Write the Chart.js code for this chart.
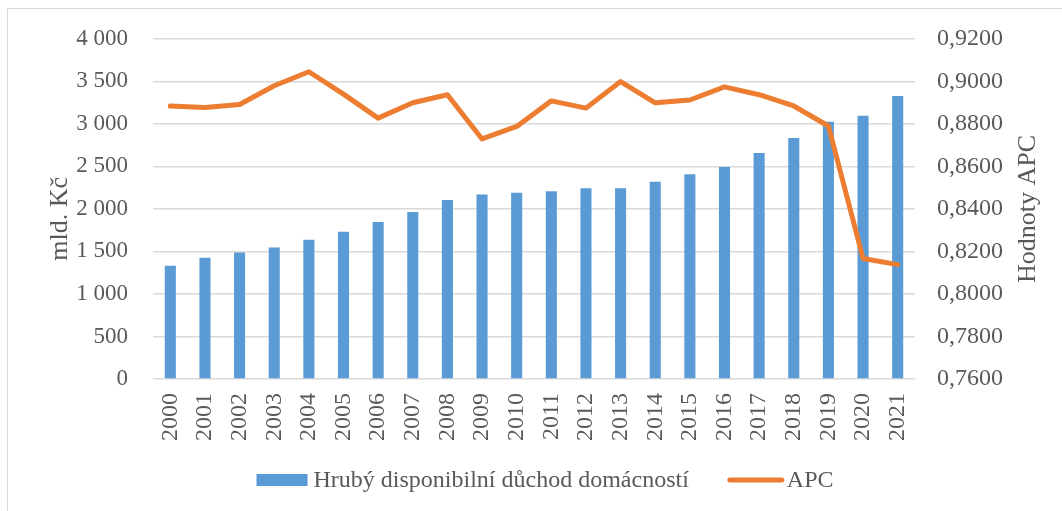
<!DOCTYPE html>
<html>
<head>
<meta charset="utf-8">
<script src="https://cdn.jsdelivr.net/npm/chart.js@4.4.1/dist/chart.umd.min.js"></script>
<style>
  html, body { margin: 0; padding: 0; background: #fff; overflow: hidden; }
  #wrap { position: relative; width: 1062px; height: 511px; }
  #frame { position: absolute; left: 7px; top: 8px; width: 1100px; height: 560px;
           border: 1px solid #d9d9d9; box-sizing: border-box; }
  canvas { position: absolute; left: 0; top: 0; }
</style>
</head>
<body>
<div id="wrap">
  <div id="frame"></div>
  <canvas id="grafico" width="1062" height="511"></canvas>
</div>
<script>
// roky
const roky = ['2000','2001','2002','2003','2004','2005','2006','2007','2008','2009','2010',
              '2011','2012','2013','2014','2015','2016','2017','2018','2019','2020','2021'];
// hruby disponibilni duchod domacnosti (mld. Kc)
const duchod = [1331,1425,1487,1546,1636,1730,1847,1965,2106,2168,2191,
                2207,2242,2242,2320,2406,2493,2657,2833,3025,3095,3326];
// APC
const apc = [0.8884,0.8877,0.8891,0.8979,0.9045,0.8940,0.8827,0.8899,0.8937,0.8729,0.8788,
             0.8908,0.8874,0.8999,0.8899,0.8912,0.8974,0.8937,0.8884,0.8790,0.8167,0.8138];

const seda = '#595959';
const pismo = 'Liberation Serif';

// popisky os (obe otocene zdola nahoru jako v Excelu)
const titulkyOs = {
    id: 'titulkyOs',
    afterDraw(chart) {
        const ctx = chart.ctx;
        const a = chart.chartArea;
        const stred = (a.top + a.bottom) / 2;
        [['mld. Kč', a.left - 93, stred + 10], ['Hodnoty APC', a.right + 113, stred]].forEach(([txt, x, y]) => {
            ctx.save();
            ctx.fillStyle = seda;
            ctx.font = '26px "' + pismo + '"';
            ctx.textAlign = 'center';
            ctx.textBaseline = 'middle';
            ctx.translate(x, y);
            ctx.rotate(-Math.PI / 2);
            ctx.fillText(txt, 0, 0);
            ctx.restore();
        });
    }
};

// legenda pod grafem
const legenda = {
    id: 'legenda',
    afterDraw(chart) {
        const ctx = chart.ctx;
        const dsBar = chart.data.datasets[1];
        const dsLine = chart.data.datasets[0];
        ctx.save();
        ctx.font = '24px "' + pismo + '"';
        ctx.textBaseline = 'middle';
        const w1 = ctx.measureText(dsBar.label).width;
        const w2 = ctx.measureText(dsLine.label).width;
        const celkem = 51 + 6 + w1 + 39 + 56 + 3 + w2;
        let x = 545 - celkem / 2;
        const y = 480;
        ctx.fillStyle = dsBar.backgroundColor;
        ctx.fillRect(x, y - 6, 51, 12);
        x += 57;
        ctx.fillStyle = seda;
        ctx.fillText(dsBar.label, x, y + 1);
        x += w1 + 39;
        ctx.strokeStyle = dsLine.borderColor;
        ctx.lineWidth = 5;
        ctx.lineCap = 'round';
        ctx.beginPath();
        ctx.moveTo(x + 2, y);
        ctx.lineTo(x + 54, y);
        ctx.stroke();
        x += 59;
        ctx.fillText(dsLine.label, x, y + 1);
        ctx.restore();
    }
};

const getGrafic = document.getElementById('grafico').getContext('2d');
const myChart = new Chart(getGrafic, {
    data: {
        labels: roky,
        datasets: [{
            type: 'line',
            label: 'APC',
            data: apc,
            yAxisID: 'y1',
            borderColor: '#ED7D31',
            backgroundColor: '#ED7D31',
            borderWidth: 5,
            pointRadius: 0,
            tension: 0,
            borderJoinStyle: 'round',
            borderCapStyle: 'round',
            order: 0
        }, {
            type: 'bar',
            label: 'Hrubý disponibilní důchod domácností',
            data: duchod,
            yAxisID: 'y',
            backgroundColor: '#5B9BD5',
            barPercentage: 0.4,
            categoryPercentage: 0.8,
            order: 1
        }]
    },
    plugins: [titulkyOs, legenda],
    options: {
        responsive: false,
        animation: false,
        layout: { padding: { top: 38, bottom: 52, left: 0, right: 0 } },
        plugins: {
            tooltip: { enabled: false },
            legend: { display: false }
        },
        scales: {
            x: {
                grid: { display: false },
                border: { display: false },
                ticks: {
                    color: seda,
                    font: { family: pismo, size: 24 },
                    minRotation: 90,
                    maxRotation: 90,
                    padding: 6,
                    autoSkip: false
                },
                afterFit(scale) { scale.height = 80; }
            },
            y: {
                position: 'left',
                min: 0,
                max: 4000,
                ticks: {
                    stepSize: 500,
                    color: seda,
                    font: { family: pismo, size: 23 },
                    padding: 25,
                    callback: (v) => String(v).replace(/\B(?=(\d{3})+(?!\d))/g, ' ')
                },
                grid: { color: '#d9d9d9', lineWidth: 1.5, drawTicks: false },
                border: { display: false },
                afterFit(scale) { scale.width = 153; }
            },
            y1: {
                position: 'right',
                min: 0.76,
                max: 0.92,
                ticks: {
                    stepSize: 0.02,
                    color: seda,
                    font: { family: pismo, size: 24 },
                    padding: 22,
                    callback: (v) => v.toFixed(4).replace('.', ',')
                },
                grid: { display: false, drawTicks: false },
                border: { display: false },
                afterFit(scale) { scale.width = 147; }
            }
        }
    }
});
</script>
</body>
</html>
